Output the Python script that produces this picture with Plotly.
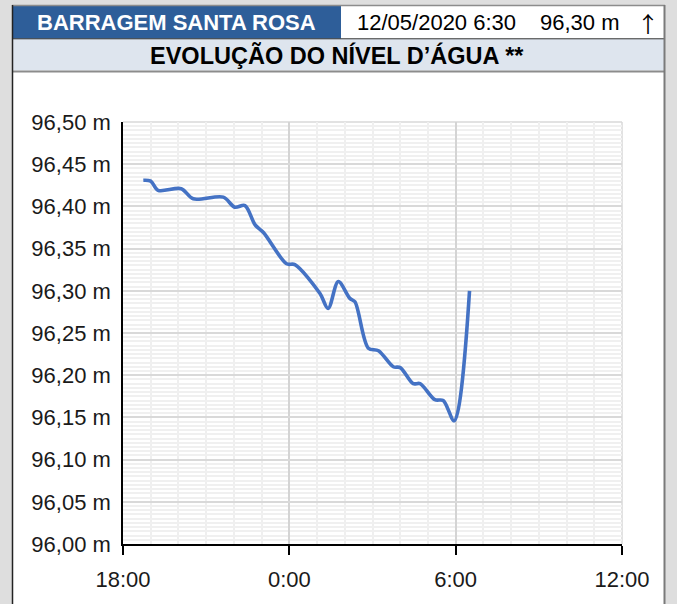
import plotly.graph_objects as go

# ---- data ----
times = [
    "2020-05-11 18:44", "2020-05-11 19:00", "2020-05-11 19:16", "2020-05-11 20:06",
    "2020-05-11 20:32", "2020-05-11 21:37", "2020-05-11 22:02", "2020-05-11 22:24",
    "2020-05-11 22:46", "2020-05-11 23:04", "2020-05-11 23:54", "2020-05-12 00:12",
    "2020-05-12 01:06", "2020-05-12 01:24", "2020-05-12 01:46", "2020-05-12 02:11",
    "2020-05-12 02:22", "2020-05-12 02:51", "2020-05-12 03:13", "2020-05-12 03:45",
    "2020-05-12 04:00", "2020-05-12 04:28", "2020-05-12 04:43", "2020-05-12 05:15",
    "2020-05-12 05:33", "2020-05-12 05:57", "2020-05-12 06:30",
]
levels = [
    96.431, 96.430, 96.419, 96.421,
    96.409, 96.411, 96.399, 96.401,
    96.378, 96.369, 96.332, 96.331,
    96.297, 96.279, 96.311, 96.291,
    96.287, 96.232, 96.229, 96.210,
    96.209, 96.190, 96.190, 96.171,
    96.170, 96.146, 96.300,
]
x_tickvals = ["2020-05-11 18:00", "2020-05-12 00:00", "2020-05-12 06:00", "2020-05-12 12:00"]
x_ticktext = ["18:00", "0:00", "6:00", "12:00"]

station = "BARRAGEM SANTA ROSA"
stamp = "12/05/2020 6:30"
current = "96,30 m"
arrow = "↑"
title = "EVOLUÇÃO DO NÍVEL D’ÁGUA **"

# ---- layout geometry (pixels) ----
W, H = 677, 604
L, R, T, B = 123, 55, 122, 56
PW = W - L - R
PH = H - T - B


def px(x):
    return (x - L) / PW


def py(y):
    return (H - B - y) / PH


FONT = "Liberation Sans, Arial, Helvetica, sans-serif"

fig = go.Figure()
fig.add_trace(go.Scatter(
    x=times, y=levels, mode="lines",
    line=dict(color="#4472C4", width=3.6, shape="spline", smoothing=0.9),
    hoverinfo="skip", showlegend=False,
))

shapes = []
shapes.append(dict(type="rect", xref="paper", yref="paper", layer="below",
                   x0=px(13), x1=px(664), y0=py(610), y1=py(5),
                   fillcolor="white", line=dict(width=0)))
shapes.append(dict(type="rect", xref="paper", yref="paper", layer="below",
                   x0=px(13), x1=px(341), y0=py(38), y1=py(5),
                   fillcolor="#2E5E99", line=dict(width=0)))
shapes.append(dict(type="rect", xref="paper", yref="paper", layer="below",
                   x0=px(13), x1=px(664), y0=py(70), y1=py(38),
                   fillcolor="#DEE5EE", line=dict(width=0)))
shapes.append(dict(type="line", xref="paper", yref="paper",
                   x0=px(13), x1=px(664), y0=py(38), y1=py(38),
                   line=dict(color="#333333", width=1)))
shapes.append(dict(type="line", xref="paper", yref="paper",
                   x0=px(13), x1=px(664), y0=py(71), y1=py(71),
                   line=dict(color="#8C8C8C", width=2)))
shapes.append(dict(type="line", xref="paper", yref="paper",
                   x0=px(12), x1=px(665), y0=py(4.5), y1=py(4.5),
                   line=dict(color="#8C8C8C", width=1.5)))
shapes.append(dict(type="line", xref="paper", yref="paper",
                   x0=px(12.5), x1=px(12.5), y0=py(4), y1=py(610),
                   line=dict(color="#222222", width=1.5)))
shapes.append(dict(type="line", xref="paper", yref="paper",
                   x0=px(664.5), x1=px(664.5), y0=py(4), y1=py(610),
                   line=dict(color="#7A7A7A", width=2)))
shapes.append(dict(type="line", xref="paper", yref="paper", layer="below",
                   x0=0, x1=1, y0=1, y1=1, line=dict(color="#D9D9D9", width=1.5)))
shapes.append(dict(type="line", xref="paper", yref="paper", layer="below",
                   x0=1, x1=1, y0=0, y1=1, line=dict(color="#D9D9D9", width=1.5)))

annotations = [
    dict(text=f"<b>{station}</b>", x=px(176), y=py(21.5), xref="paper", yref="paper",
         showarrow=False, xanchor="center", yanchor="middle",
         font=dict(family=FONT, size=22, color="white")),
    dict(text=stamp, x=px(436), y=py(21.5), xref="paper", yref="paper",
         showarrow=False, xanchor="center", yanchor="middle",
         font=dict(family=FONT, size=22, color="black")),
    dict(text=current, x=px(580), y=py(21.5), xref="paper", yref="paper",
         showarrow=False, xanchor="center", yanchor="middle",
         font=dict(family=FONT, size=22, color="black")),
    dict(text=arrow, x=px(648), y=py(21), xref="paper", yref="paper",
         showarrow=False, xanchor="center", yanchor="middle",
         font=dict(family="Noto Sans CJK JP, DejaVu Sans", size=22, color="black")),
    dict(text=f"<b>{title}</b>", x=px(337), y=py(54.5), xref="paper", yref="paper",
         showarrow=False, xanchor="center", yanchor="middle",
         font=dict(family=FONT, size=23.5, color="black")),
]

fig.update_layout(
    width=W, height=H,
    margin=dict(l=L, r=R, t=T, b=B, pad=0),
    paper_bgcolor="#DEDEDE",
    plot_bgcolor="white",
    separators=",.",
    font=dict(family=FONT, size=22, color="#1A1A1A"),
    shapes=shapes,
    annotations=annotations,
    showlegend=False,
)
fig.update_xaxes(
    type="date",
    range=["2020-05-11 18:00", "2020-05-12 12:00"],
    tickmode="array", tickvals=x_tickvals, ticktext=x_ticktext,
    showgrid=True, gridcolor="#D4D4D4", gridwidth=1.5,
    showline=True, linecolor="black", linewidth=1.5,
    ticks="outside", ticklen=9, tickwidth=1.5, tickcolor="black",
    ticklabelstandoff=6,
    tickfont=dict(family=FONT, size=22, color="#1A1A1A"),
    minor=dict(dtick=3600000, tick0="2020-05-11 18:00", showgrid=True,
               gridcolor="#EFEFEF", gridwidth=1.5, ticks=""),
    zeroline=False, fixedrange=True,
)
fig.update_yaxes(
    range=[96.0, 96.5],
    tickmode="linear", tick0=96.0, dtick=0.05,
    tickformat=".2f", ticksuffix=" m",
    showgrid=True, gridcolor="#D9D9D9", gridwidth=1.5,
    showline=True, linecolor="black", linewidth=1.5,
    ticks="", ticklabelstandoff=6,
    tickfont=dict(family=FONT, size=22, color="#1A1A1A"),
    minor=dict(dtick=0.005, tick0=96.0, showgrid=True,
               gridcolor="#F0F0F0", gridwidth=1.5, ticks=""),
    zeroline=False, fixedrange=True,
)

fig.write_html(
    "out.html",
    config={"displayModeBar": False},
    post_script="document.body.style.margin='0';document.body.style.background='#DEDEDE';",
)
